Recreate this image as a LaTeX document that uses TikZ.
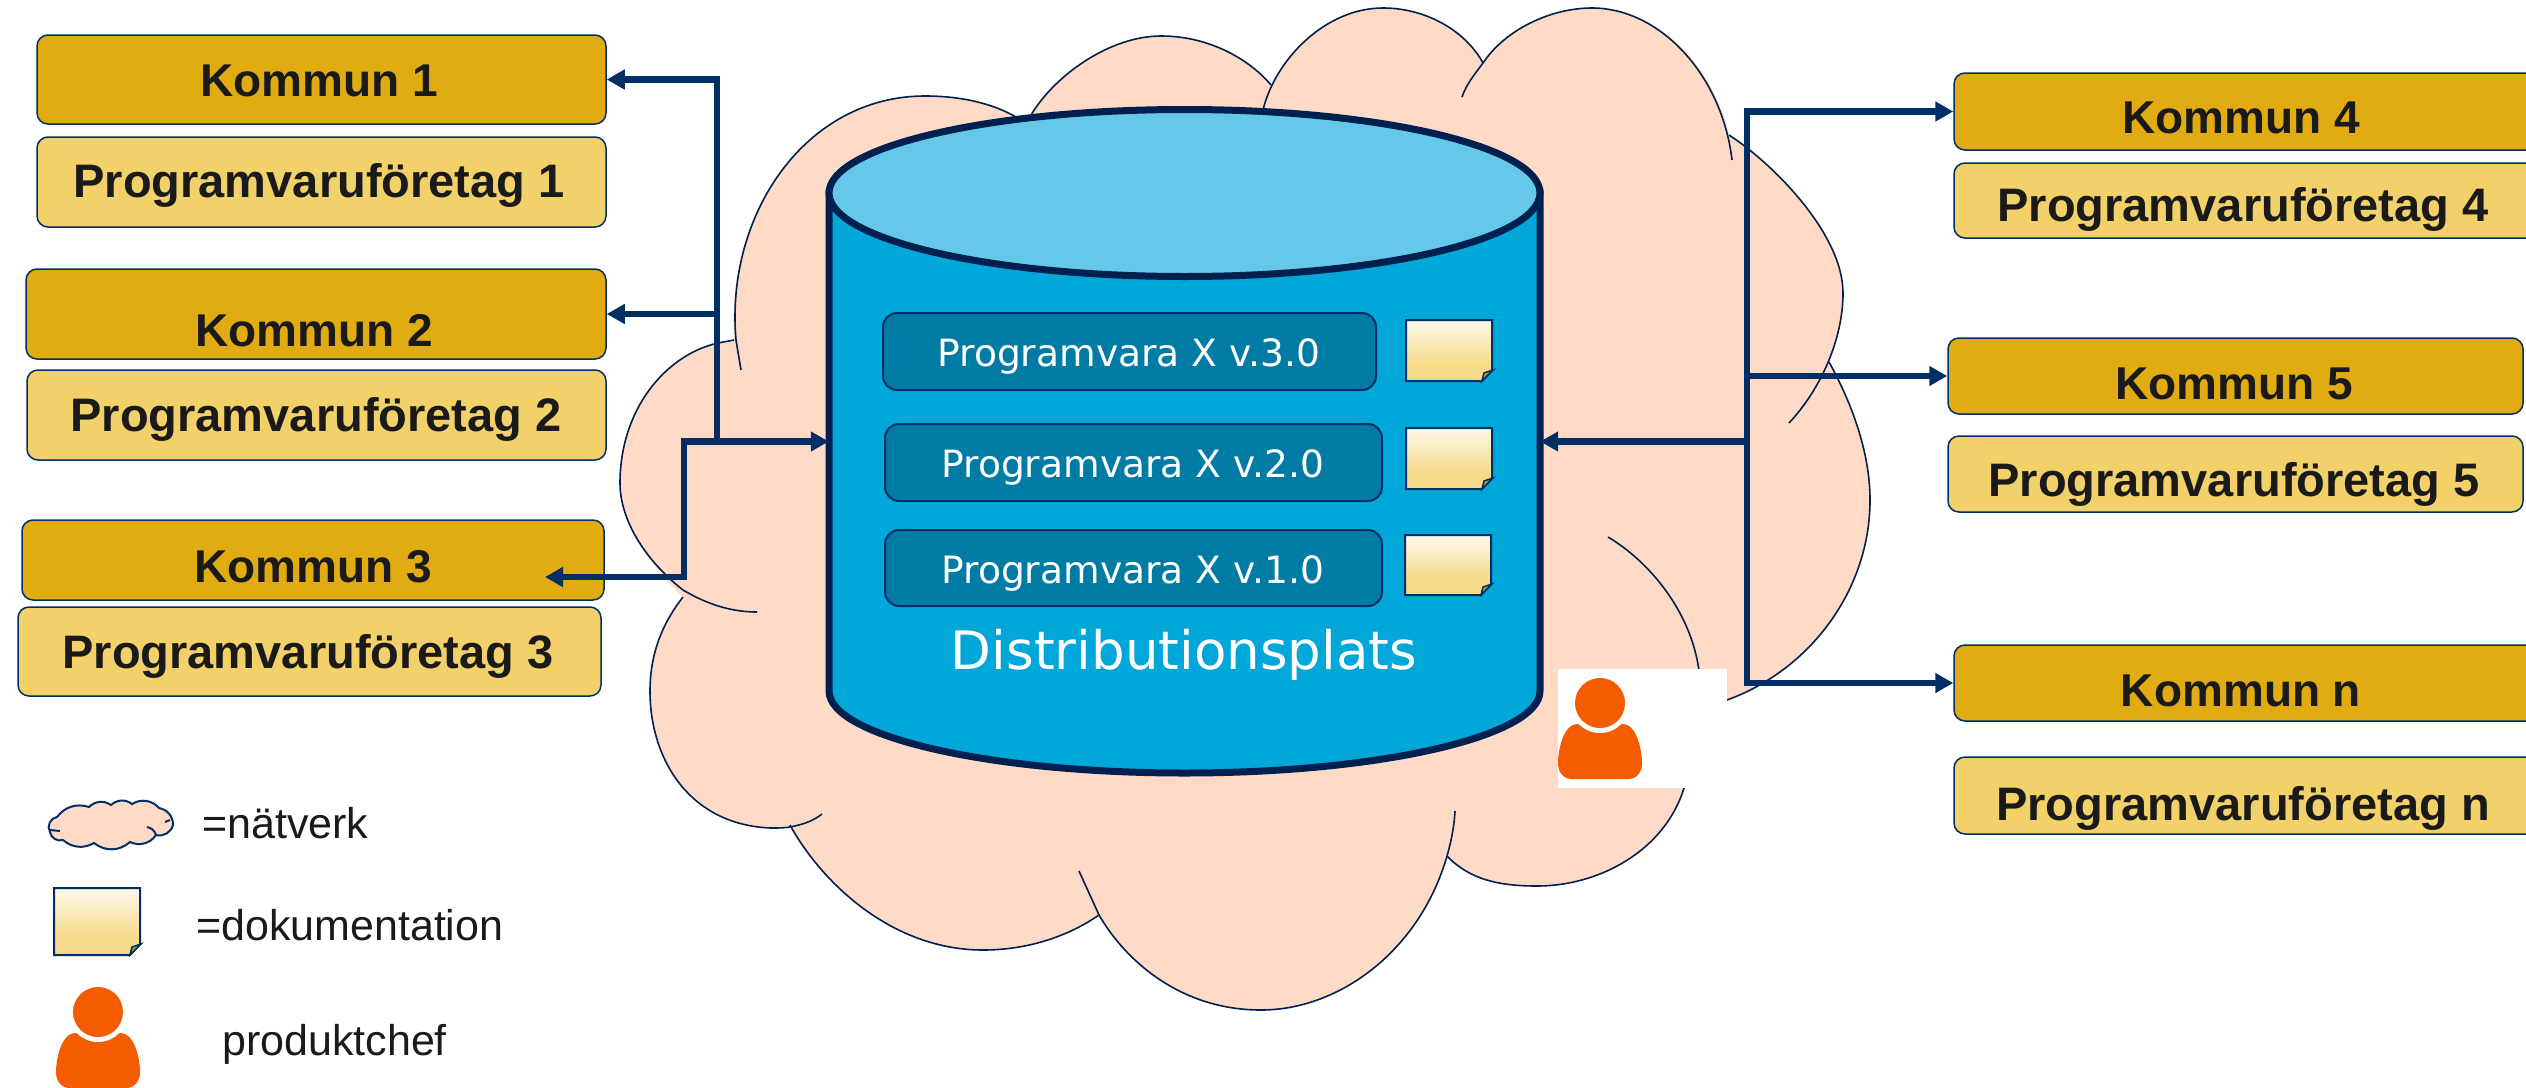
\documentclass[tikz,border=0pt]{standalone}
\usepackage{fontspec}
\setmainfont{Liberation Sans}
\newfontfamily\djfont{DejaVu Sans}
\usetikzlibrary{arrows.meta}
\definecolor{navy}{HTML}{002F66}
\definecolor{cylline}{HTML}{002050}
\definecolor{cloudfill}{HTML}{FFDBC7}
\definecolor{kommunfill}{HTML}{E0AC12}
\definecolor{foretagfill}{HTML}{F2D16B}
\definecolor{cylfill}{HTML}{00A7D8}
\definecolor{cyltop}{HTML}{66C8E8}
\definecolor{progfill}{HTML}{007BA3}
\definecolor{chef}{HTML}{F55B00}
\definecolor{noteT}{HTML}{FEF9EC}
\definecolor{noteB}{HTML}{F5DA88}
\definecolor{inktext}{HTML}{1A1A1A}
\pgfdeclareverticalshading{notegrad}{100bp}{color(0bp)=(noteB); color(38bp)=(noteB); color(75bp)=(noteT); color(100bp)=(noteT)}
\tikzset{
  box/.style={draw=navy,line width=1.5pt,rounded corners=11pt,inner sep=0pt},
  kommunbox/.style={box,fill=kommunfill},
  foretagbox/.style={box,fill=foretagfill},
  progbox/.style={draw=navy,line width=2pt,rounded corners=14pt,fill=progfill,inner sep=0pt},
  boxtext/.style={font=\fontsize{46}{50}\selectfont\bfseries,text=inktext,inner sep=0pt},
  foretagtext/.style={font=\fontsize{47}{50}\selectfont\bfseries,text=inktext,inner sep=0pt},
  progtext/.style={font=\djfont\fontsize{37.6}{42}\selectfont,text=white,inner sep=0pt},
  legendtext/.style={font=\fontsize{43}{46}\selectfont,text=inktext,inner sep=0pt,anchor=west},
  cloudline/.style={draw=cylline,line width=1.6pt},
  flow/.style={draw=navy,line width=6.5pt,-{Triangle[length=18pt,width=19pt]}},
  flowline/.style={draw=navy,line width=6.5pt,line cap=rect},
  person/.pic={
    \fill[chef] (-22,21) .. controls (-38,21) and (-42,50) .. (-42,60) .. controls (-42,70) and (-36,76) .. (-28,76) -- (28,76) .. controls (36,76) and (42,70) .. (42,60) .. controls (42,50) and (38,21) .. (22,21) -- cycle;
    \fill[white] (0,0) circle[radius=30];
    \fill[chef] (0,0) circle[radius=25];
  }
}
% #1 left, #2 top, #3 right, #4 bottom
\newcommand{\docnote}[4]{%
  \path[shade,shading=notegrad,draw=navy,line width=2pt] (#1,#2) -- (#3,#2) -- (#3,#4-11) -- (#3-10,#4) -- (#1,#4) -- cycle;
  \fill[noteB!70!black,draw=navy,line width=1.5pt] (#3+1,#4-11) -- (#3-8,#4-8) -- (#3-10,#4) -- cycle;
}
\begin{document}
\begin{tikzpicture}[x=1pt,y=-1pt]
\useasboundingbox (0,0) rectangle (2526,1087);
\fill[white] (0,0) rectangle (2526,1087);
% network cloud: fill
\fill[cloudfill] (734,340) .. controls (725,215) and (805,96) .. (925,96)
  .. controls (965,96) and (995,105) .. (1016,117) -- (1031,115)
  .. controls (1055,75) and (1110,36) .. (1161,36)
  .. controls (1210,36) and (1250,60) .. (1271,85) -- (1263,110)
  .. controls (1275,60) and (1325,8) .. (1383,8)
  .. controls (1425,8) and (1465,30) .. (1483,63)
  .. controls (1505,30) and (1550,8) .. (1592,8)
  .. controls (1660,8) and (1715,70) .. (1729,135)
  .. controls (1775,165) and (1843,235) .. (1843,293)
  .. controls (1843,315) and (1838,340) .. (1829,362)
  .. controls (1850,400) and (1870,450) .. (1870,500)
  .. controls (1870,590) and (1810,670) .. (1727,700) -- (1684,788)
  .. controls (1665,850) and (1600,886) .. (1537,886)
  .. controls (1500,886) and (1470,880) .. (1447,856)
  .. controls (1420,950) and (1340,1010) .. (1261,1010)
  .. controls (1180,1010) and (1125,960) .. (1099,915)
  .. controls (1070,935) and (1030,950) .. (983,950)
  .. controls (890,950) and (820,880) .. (790,827)
  -- (771,828)
  .. controls (690,825) and (650,760) .. (650,691)
  .. controls (650,650) and (665,620) .. (683,597)
  .. controls (645,560) and (620,520) .. (620,483)
  .. controls (620,410) and (665,355) .. (718,343) -- (734,340) -- cycle;
% network cloud: arcs
\draw[cloudline] (741,370) -- (736,340) .. controls (725,215) and (805,96) .. (925,96) .. controls (965,96) and (995,105) .. (1016,117);
\draw[cloudline] (1031,115) .. controls (1055,75) and (1110,36) .. (1161,36) .. controls (1210,36) and (1250,60) .. (1271,85);
\draw[cloudline] (1263,110) .. controls (1275,60) and (1325,8) .. (1383,8) .. controls (1425,8) and (1465,30) .. (1483,63);
\draw[cloudline] (1462,97) .. controls (1466,85) and (1474,75) .. (1483,63) .. controls (1505,30) and (1550,8) .. (1592,8) .. controls (1660,8) and (1722,75) .. (1732,160);
\draw[cloudline] (1729,135) .. controls (1775,165) and (1843,235) .. (1843,293) .. controls (1843,340) and (1820,390) .. (1789,423);
\draw[cloudline] (1829,362) .. controls (1850,400) and (1870,450) .. (1870,500) .. controls (1870,590) and (1810,670) .. (1727,700);
\draw[cloudline] (1608,537) .. controls (1650,562) and (1695,615) .. (1700,680);
\draw[cloudline] (1684,788) .. controls (1665,850) and (1600,886) .. (1537,886) .. controls (1500,886) and (1470,880) .. (1447,856);
\draw[cloudline] (1455,811) .. controls (1454,828) and (1451,842) .. (1447,856) .. controls (1420,950) and (1340,1010) .. (1261,1010) .. controls (1180,1010) and (1125,960) .. (1099,915) -- (1079,871);
\draw[cloudline] (1099,915) .. controls (1070,935) and (1030,950) .. (983,950) .. controls (890,950) and (820,880) .. (790,825);
\draw[cloudline] (822,814) .. controls (812,822) and (800,825) .. (790,827) .. controls (785,828) and (778,828) .. (771,828) .. controls (690,825) and (650,760) .. (650,691) .. controls (650,650) and (665,620) .. (683,597);
\draw[cloudline] (757,612) .. controls (725,612) and (700,600) .. (683,590) .. controls (645,560) and (620,520) .. (620,483) .. controls (620,410) and (665,355) .. (718,343) -- (734,340);
% person in white patch
\fill[white] (1558,669) rectangle (1727,788);
\pic at (1600,703) {person};
% database cylinder
\node[inner sep=0pt,minimum width=711pt,minimum height=663pt] (cyl) at (1184.5,441.5) {};
\filldraw[fill=cylfill,draw=cylline,line width=7pt] (829,193) -- (829,691) .. controls (829,736) and (988,773) .. (1184.5,773) .. controls (1381,773) and (1540,736) .. (1540,691) -- (1540,193) -- cycle;
\filldraw[fill=cyltop,draw=cylline,line width=7pt] (1184.5,193) ellipse[x radius=355.5,y radius=83.5];
% versions
\node[progbox,minimum width=493pt,minimum height=77pt] (v3) at (1129.5,351.5) {};
\node[progbox,minimum width=497pt,minimum height=77pt] (v2) at (1133.5,462.5) {};
\node[progbox,minimum width=497pt,minimum height=76pt] (v1) at (1133.5,568) {};
\node[progtext] (t3) at (1129,356) {Programvara X v.3.0};
\node[progtext] (t2) at (1133,467) {Programvara X v.2.0};
\node[progtext] (t1) at (1133,573) {Programvara X v.1.0};
\node[font=\djfont\fontsize{53}{60}\selectfont,text=white,inner sep=0pt] (dist) at (1184,655) {Distributionsplats};
\docnote{1406}{320}{1492}{381}
\docnote{1406}{428}{1492}{489}
\docnote{1405}{535}{1491}{595}
% municipalities and companies
\node[kommunbox,minimum width=569pt,minimum height=89pt] (k1) at (321.5,79.5) {};
\node[foretagbox,minimum width=569pt,minimum height=90pt] (p1) at (321.5,182) {};
\node[kommunbox,minimum width=580pt,minimum height=90pt] (k2) at (316,314) {};
\node[foretagbox,minimum width=579pt,minimum height=90pt] (p2) at (316.5,415) {};
\node[kommunbox,minimum width=582pt,minimum height=80pt] (k3) at (313,560) {};
\node[foretagbox,minimum width=583pt,minimum height=89pt] (p3) at (309.5,651.5) {};
\node[kommunbox,minimum width=590pt,minimum height=77pt] (k4) at (2249,111.5) {};
\node[foretagbox,minimum width=590pt,minimum height=75pt] (p4) at (2249,200.5) {};
\node[kommunbox,minimum width=575pt,minimum height=76pt] (k5) at (2235.5,376) {};
\node[foretagbox,minimum width=575pt,minimum height=76pt] (p5) at (2235.5,474) {};
\node[kommunbox,minimum width=590pt,minimum height=76pt] (kn) at (2249,683) {};
\node[foretagbox,minimum width=590pt,minimum height=77pt] (pn) at (2249,795.5) {};
\node[boxtext] (k1t) at (319,81) {Kommun 1};
\node[foretagtext] (p1t) at (319,185) {Programvaruföretag 1};
\node[boxtext] (k2t) at (314,331) {Kommun 2};
\node[foretagtext] (p2t) at (316,419) {Programvaruföretag 2};
\node[boxtext] (k3t) at (313,567) {Kommun 3};
\node[foretagtext] (p3t) at (308,656) {Programvaruföretag 3};
\node[boxtext] (k4t) at (2241,118) {Kommun 4};
\node[foretagtext] (p4t) at (2243,209) {Programvaruföretag 4};
\node[boxtext] (k5t) at (2234,384) {Kommun 5};
\node[foretagtext] (p5t) at (2234,484) {Programvaruföretag 5};
\node[boxtext] (knt) at (2241,691) {Kommun n};
\node[foretagtext] (pnt) at (2243,808) {Programvaruföretag n};
% connector junctions
\coordinate (lt) at (717,79.5);
\coordinate (lm) at (717,314);
\coordinate (lb) at (717,441.5);
\coordinate (ll) at (684,441.5);
\coordinate (ld) at (684,577);
\coordinate (k3end) at (545,577);
\coordinate (rt) at (1747,111.5);
\coordinate (rm) at (1747,376);
\coordinate (rc) at (1747,441.5);
\coordinate (rb) at (1747,683);
\draw[flowline] (lt) -- (lb);
\draw[flowline] (ll) -- (ld);
\draw[flowline] (rt) -- (rb);
\draw[flow] (lt) -- (k1.east);
\draw[flow] (lm) -- (k2.east);
\draw[flow] (ll) -- (cyl.west);
\draw[flow] (ld) -- (k3end);
\draw[flow] (rt) -- (k4.west);
\draw[flow] (rm) -- (k5.west);
\draw[flow] (rc) -- (cyl.east);
\draw[flow] (rb) -- (kn.west);
% legend
\filldraw[fill=cloudfill,draw=navy,line width=2pt] (57,817) to[bend left=35] (89,807) to[bend left=40] (111,805) to[bend left=40] (132,804) to[bend left=40] (159,808) to[bend left=40] (173,825) to[bend left=45] (156,835) to[bend left=40] (130,842) to[bend left=40] (94,843) to[bend left=35] (63,840) to[bend left=50] (50,832) to[bend left=60] cycle;
\draw[navy,line width=2pt] (50,830) -- (60,831) (147,827) to[bend left=30] (156,835) (165,822) -- (170,820);
\docnote{54}{888}{140}{955}
\pic at (98,1012) {person};
\node[legendtext] (lg1) at (202,823) {=nätverk};
\node[legendtext] (lg2) at (196,925) {=dokumentation};
\node[legendtext] (lg3) at (222,1044) {produktchef};
\end{tikzpicture}
\end{document}
